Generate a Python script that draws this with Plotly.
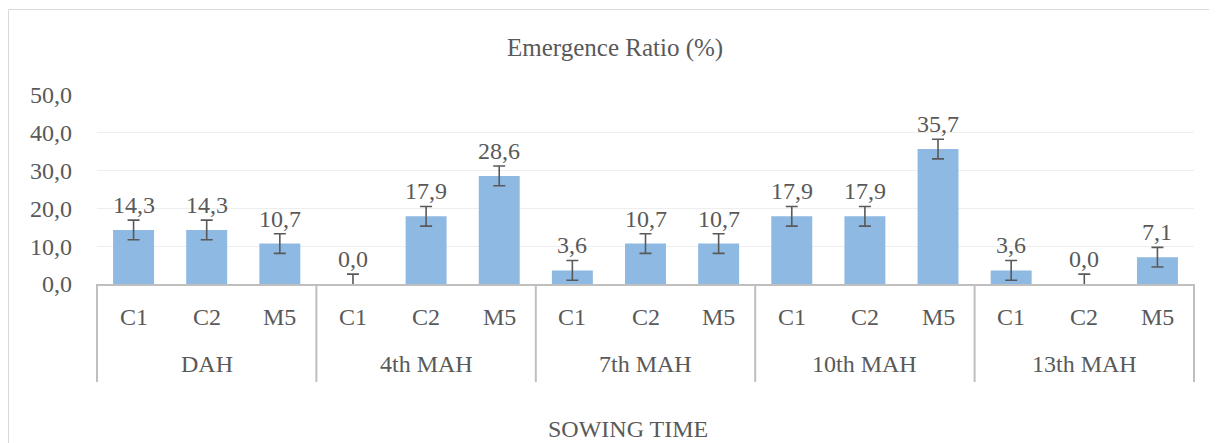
import plotly.graph_objects as go

# ---- data ----
groups = ["DAH", "4th MAH", "7th MAH", "10th MAH", "13th MAH"]
varieties = ["C1", "C2", "M5"]
values = [14.3, 14.3, 10.7, 0.0, 17.9, 28.6, 3.6, 10.7, 10.7, 17.9, 17.9, 35.7, 3.6, 0.0, 7.1]
errors = [2.6, 2.6, 2.6, 2.6, 2.6, 2.6, 2.6, 2.6, 2.6, 2.6, 2.6, 2.6, 2.6, 2.6, 2.6]
y_ticks = [0, 10, 20, 30, 40, 50]
chart_title = "Emergence Ratio (%)"
x_title = "SOWING TIME"

# ---- layout constants (page body has an 8px margin) ----
OFF = 8
W, H = 1217 - OFF, 443 - OFF
PL, PR, PT, PB = 97 - OFF, 1194 - OFF, 95 - OFF, 284 - OFF   # plot area in figure px
ML, MR, MT, MB = PL, W - PR, PT, H - PB
PW, PH = PR - PL, PB - PT
FONT = "Liberation Serif, Times New Roman, serif"
TXT = "#595959"
FS = 24

n = len(values)
xs = list(range(n))
cat_labels = [varieties[i % len(varieties)] for i in range(n)]

fig = go.Figure()
fig.add_trace(go.Bar(
    x=xs, y=values, width=0.56,
    marker=dict(color="#8DB9E2", line=dict(width=0)),
    error_y=dict(type="data", array=errors, visible=True, color="#595959", thickness=1.6, width=6),
    hoverinfo="y",
))

def px_x(px):  # screenshot px -> paper x
    return (px - OFF - PL) / PW

def px_y(py):  # screenshot px -> paper y
    return (PB - (py - OFF)) / PH

annotations = []
# value labels
for x, v in zip(xs, values):
    annotations.append(dict(x=x, y=v, xref="x", yref="y", text=f"{v:.1f}".replace(".", ","),
                            showarrow=False, yanchor="middle", yshift=25,
                            font=dict(family=FONT, size=FS, color=TXT)))
# category labels
for x, c in zip(xs, cat_labels):
    annotations.append(dict(x=x, y=0, xref="x", yref="paper", text=c, showarrow=False,
                            yanchor="middle", yshift=-33, font=dict(family=FONT, size=FS, color=TXT)))
# group labels
k = len(varieties)
for g, name in enumerate(groups):
    annotations.append(dict(x=g * k + (k - 1) / 2, y=0, xref="x", yref="paper", text=name, showarrow=False,
                            yanchor="middle", yshift=-80, font=dict(family=FONT, size=FS, color=TXT)))
# titles
annotations.append(dict(x=px_x(615), y=px_y(48), xref="paper", yref="paper",
                        text=chart_title, showarrow=False, yanchor="middle", xanchor="center",
                        font=dict(family=FONT, size=25, color=TXT)))
annotations.append(dict(x=px_x(628), y=px_y(429), xref="paper", yref="paper",
                        text=x_title, showarrow=False, yanchor="middle", xanchor="center",
                        font=dict(family=FONT, size=FS, color=TXT)))

shapes = []
# group dividers
for g in range(len(groups) + 1):
    xp = (g * k) / n
    shapes.append(dict(type="line", xref="paper", yref="paper", x0=xp, x1=xp,
                       y0=0, y1=px_y(382), line=dict(color="#BFBFBF", width=2)))
# chart outer border
shapes.append(dict(type="rect", xref="paper", yref="paper",
                   x0=px_x(8.5), x1=px_x(1210),
                   y0=px_y(9.5), y1=px_y(470),
                   line=dict(color="#D9D9D9", width=1), fillcolor="rgba(0,0,0,0)", layer="below"))

fig.update_layout(
    width=W, height=H,
    margin=dict(l=ML, r=MR, t=MT, b=MB),
    paper_bgcolor="white", plot_bgcolor="white",
    separators=",.",
    showlegend=False,
    font=dict(family=FONT, size=FS, color=TXT),
    xaxis=dict(range=[-0.5, n - 0.5], showticklabels=False, ticks="", showgrid=False,
               showline=True, linecolor="#BFBFBF", linewidth=2, zeroline=False, fixedrange=True),
    yaxis=dict(range=[0, 50], tickvals=y_ticks, tickformat=".1f", showgrid=True, gridcolor="#EEEEEE",
               gridwidth=1, zeroline=False, showline=False, ticks="", ticklabelstandoff=24,
               tickfont=dict(family=FONT, size=FS, color=TXT), fixedrange=True),
    annotations=annotations,
    shapes=shapes,
)

fig.write_html("out.html")
